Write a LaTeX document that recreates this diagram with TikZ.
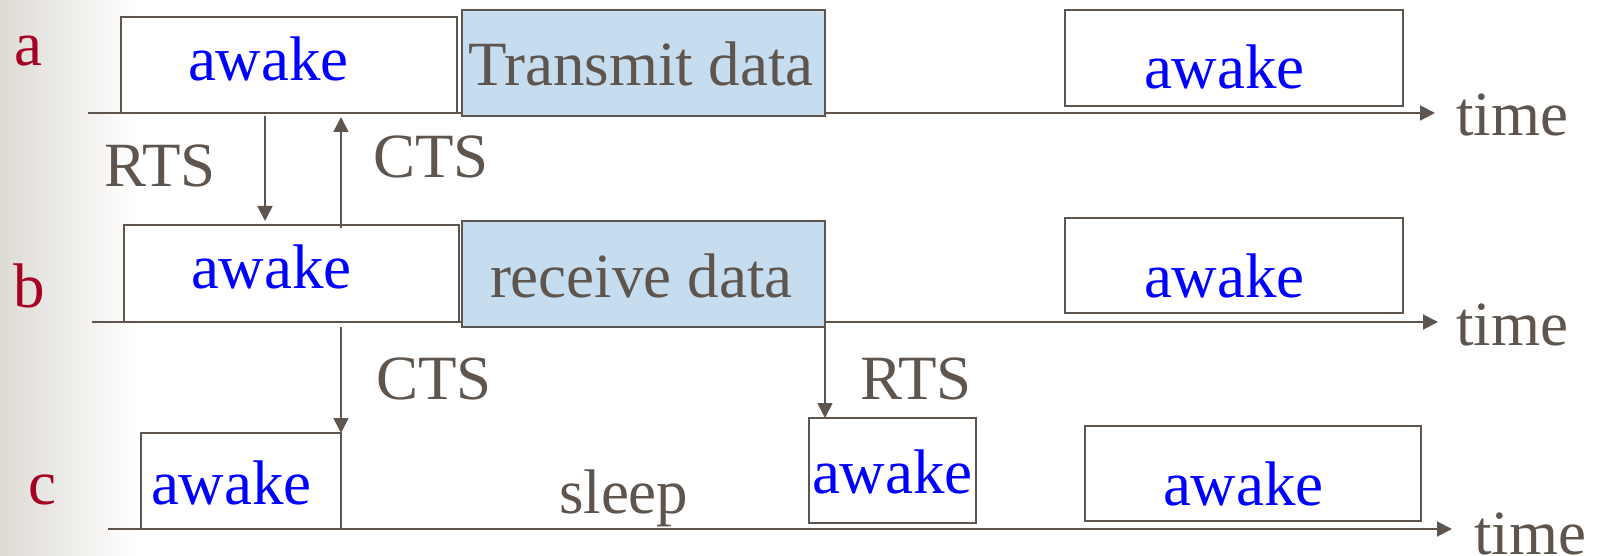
\documentclass[tikz,border=0pt]{standalone}
\usepackage{fontspec}
\setmainfont{Liberation Serif}
\usetikzlibrary{arrows.meta,fit}
\definecolor{ink}{RGB}{94,86,78}
\definecolor{wake}{RGB}{0,0,255}
\definecolor{tag}{RGB}{165,0,33}
\definecolor{busy}{RGB}{198,220,239}
\definecolor{edge}{RGB}{222,219,213}
\begin{document}
\begin{tikzpicture}[x=0.5pt,y=-0.5pt,
  every node/.style={inner sep=0pt, outer sep=0pt},
  slot/.style={draw=ink, line width=1pt, fill=white, inner sep=0pt},
  busyslot/.style={slot, fill=busy},
  txt/.style={anchor=base west, font=\fontsize{31.5}{36}\selectfont, text=ink},
  wk/.style={txt, text=wake},
  tg/.style={txt, text=tag},
  axis/.style={draw=ink, line width=1pt, -{Triangle[length=7.5pt,width=7.5pt]}},
  msg/.style={draw=ink, line width=0.9pt, -{Triangle[length=7.5pt,width=7.5pt]}}]
% page and the soft shading along the left border
\useasboundingbox (0,0) rectangle (1597,556);
\fill[white] (0,0) rectangle (1597,556);
\shade[left color=edge, right color=white] (0,0) rectangle (140,556);

% time axes
\coordinate (a0) at (88,113);  \coordinate (a9) at (1435,113);
\coordinate (b0) at (92,322);  \coordinate (b9) at (1438,322);
\coordinate (c0) at (108,529); \coordinate (c9) at (1452,529);
\draw[axis] (a0) -- (a9);
\draw[axis] (b0) -- (b9);
\draw[axis] (c0) -- (c9);

% activity slots
\node[slot, fit={(121,17) (457,113)}] (a1) {};
\node[busyslot, fit={(462,10) (825,116)}] (a2) {};
\node[slot, fit={(1065,10) (1403,106)}] (a3) {};
\node[slot, fit={(124,225) (459,322)}] (b1) {};
\node[busyslot, fit={(462,221) (825,327)}] (b2) {};
\node[slot, fit={(1065,218) (1403,313)}] (b3) {};
\node[slot, fit={(141,433) (341,529)}] (c1) {};
\node[slot, fit={(809,418) (976,523)}] (c2) {};
\node[slot, fit={(1085,426) (1421,521)}] (c3) {};

% node labels
\node[tg] (la) at (14,66) {a};
\node[tg] (lb) at (13,307) {b};
\node[tg] (lc) at (28,504) {c};

% slot texts
\node[wk] (ta1) at (188,81) {awake};
\node[txt] (ta2) at (468,86) {Transmit data};
\node[wk] (ta3) at (1144,89) {awake};
\node[wk] (tb1) at (191,288) {awake};
\node[txt] (tb2) at (490,297) {receive data};
\node[wk] (tb3) at (1144,297) {awake};
\node[wk] (tc1) at (151,504) {awake};
\node[wk] (tc2) at (812,493) {awake};
\node[wk] (tc3) at (1163,505) {awake};
\node[txt] (sl) at (559,513) {sleep};

% axis names
\node[txt] (tma) at (1456,136) {time};
\node[txt] (tmb) at (1456,345) {time};
\node[txt] (tmc) at (1474,554) {time};

% control messages
\coordinate (xr) at (265,0);
\coordinate (xc) at (341,0);
\coordinate (xq) at (825,0);
\draw[msg, shorten <=1.5pt] (a1.south -| xr) -- ([yshift=2pt]b1.north -| xr);
\draw[msg, shorten >=2pt] ([yshift=-1.5pt]b1.north -| xc) -- (a1.south -| xc);
\draw[msg] (b2.south -| xc) -- (c1.north -| xc);
\draw[msg] (b2.south -| xq) -- (c2.north -| xq);
\node[txt] (m1) at (104,187) {RTS};
\node[txt] (m2) at (373,177) {CTS};
\node[txt] (m3) at (376,399) {CTS};
\node[txt] (m4) at (860,399) {RTS};
\end{tikzpicture}
\end{document}
